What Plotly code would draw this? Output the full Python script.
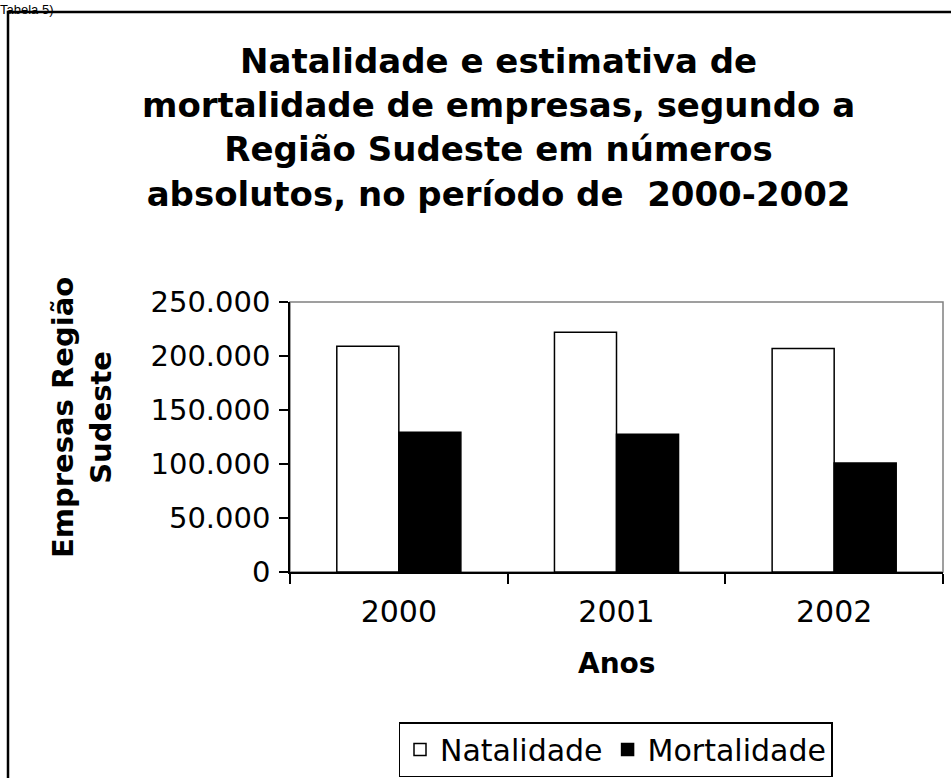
import plotly.graph_objects as go

anos = ["2000", "2001", "2002"]
natalidade = [209000, 222000, 207000]
mortalidade = [129500, 127500, 101000]
y_ticks = [0, 50000, 100000, 150000, 200000, 250000]

W, H = 951, 778
# plot area in page pixels
SX0, SX1, SY0, SY1 = 290, 943, 302, 572
L, T = SX0, SY0
R, B = W - SX1, H - SY1
PW = SX1 - SX0
PH = SY1 - SY0


def px(x):
    return (x - SX0) / PW


def py(y):
    return (SY1 - y) / PH


WIDE = "DejaVu Sans, Verdana, sans-serif"

fig = go.Figure()
fig.add_trace(go.Bar(
    x=anos, y=natalidade, name="Natalidade",
    marker=dict(color="white", line=dict(color="black", width=1.5)),
))
fig.add_trace(go.Bar(
    x=anos, y=mortalidade, name="Mortalidade",
    marker=dict(color="black", line=dict(color="black", width=1.5)),
))

fig.update_layout(
    width=W, height=H, autosize=False,
    margin=dict(l=L, r=R, t=T, b=B, autoexpand=False),
    paper_bgcolor="white", plot_bgcolor="white",
    separators=",.",
    barmode="group", bargap=0.43, bargroupgap=0,
    showlegend=True,
    legend=dict(
        orientation="h", x=px(615.5), xanchor="center", y=py(722), yanchor="top",
        font=dict(family=WIDE, size=30, color="black"),
        bordercolor="black", borderwidth=1.5, bgcolor="white",
        itemwidth=30, tracegroupgap=0,
    ),
    xaxis=dict(
        type="category", showgrid=False, zeroline=False,
        showline=True, linecolor="black", linewidth=1.5,
        ticks="outside", tickson="boundaries", ticklen=10, tickwidth=1.5, tickcolor="black",
        tickfont=dict(family=WIDE, size=30, color="black"),
        ticklabelstandoff=12,
    ),
    yaxis=dict(
        range=[0, 250000], tickvals=y_ticks, tickformat=",d",
        showgrid=False, zeroline=False,
        showline=True, linecolor="black", linewidth=1.5,
        ticks="outside", ticklen=9, tickwidth=1.5, tickcolor="black",
        tickfont=dict(family=WIDE, size=29, color="black"),
        ticklabelstandoff=3,
    ),
    shapes=[
        dict(type="rect", xref="paper", yref="paper", x0=0, x1=1, y0=0, y1=1,
             line=dict(color="#808080", width=1.5), layer="below"),
        dict(type="rect", xref="paper", yref="paper",
             x0=px(8), x1=px(W + 40), y0=py(12), y1=py(H + 40),
             line=dict(color="black", width=2.5), layer="below"),
    ],
    annotations=[
        dict(text="Natalidade e estimativa de<br>mortalidade de empresas, segundo a<br>"
                  "Região Sudeste em números<br>absolutos, no período de  2000-2002",
             xref="paper", yref="paper", x=px(498), y=py(127),
             xanchor="center", yanchor="middle", align="center", showarrow=False,
             font=dict(family=WIDE, size=34, color="black", weight="bold")),
        dict(text="Tabela 5)", xref="paper", yref="paper", x=px(-2), y=py(0),
             xanchor="left", yanchor="top", showarrow=False,
             font=dict(family="Arial, Liberation Sans, sans-serif", size=13, color="black")),
        dict(text="Empresas Região<br>Sudeste", xref="paper", yref="paper",
             x=px(82), y=py(418), xanchor="center", yanchor="middle", textangle=-90,
             showarrow=False,
             font=dict(family=WIDE, size=29, color="black", weight="bold")),
        dict(text="Anos", xref="paper", yref="paper", x=px(617), y=py(663),
             xanchor="center", yanchor="middle", showarrow=False,
             font=dict(family=WIDE, size=28, color="black", weight="bold")),
    ],
)

fig.write_html("out.html", config={"displayModeBar": False},
               post_script="document.body.style.margin='0';")
